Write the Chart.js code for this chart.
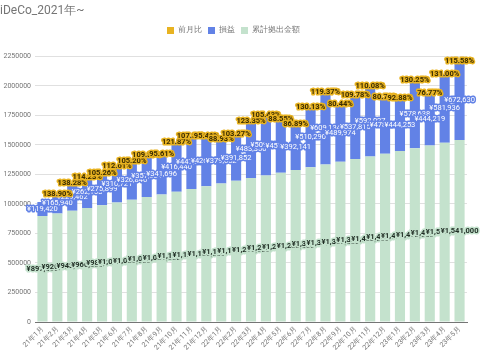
<!DOCTYPE html>
<html>
<head>
<meta charset="utf-8">
<script src="https://cdn.jsdelivr.net/npm/chart.js@4"></script>
<style>
html,body{margin:0;padding:0;background:#fff;}
#wrap{width:480px;height:351px;}
</style>
</head>
<body>
<div id="wrap"><canvas id="chartIdeco" width="480" height="351"></canvas></div>
<script>

let months=["21年1月","21年2月","21年3月","21年4月","21年5月","21年6月","21年7月","21年8月","21年9月","21年10月","21年11月","21年12月",
"22年1月","22年2月","22年3月","22年4月","22年5月","22年6月","22年7月","22年8月","22年9月","22年10月","22年11月","22年12月",
"23年1月","23年2月","23年3月","23年4月","23年5月"];

let contributed=[897000,920000,943000,966000,989000,1012000,1035000,1058000,1081000,1104000,1127000,1150000,
1173000,1196000,1219000,1242000,1265000,1288000,1311000,1334000,1357000,1380000,1403000,1426000,
1449000,1472000,1495000,1518000,1541000];

let profit=[119420,165940,229462,262103,275899,310721,326846,357534,341696,416440,447215,426911,
379652,391852,483350,509595,451246,392141,510290,609134,489974,537815,592027,478299,
444253,578638,444219,581936,672630];

let ratio=[null,138.90,138.28,114.23,105.26,112.61,105.20,109.39,95.61,121.87,107.39,95.46,
88.93,103.27,123.35,105.43,88.55,86.89,130.13,119.37,80.44,109.78,110.08,80.79,
92.88,130.25,76.77,131.00,115.58];

let yTicks=[0,250000,500000,750000,1000000,1250000,1500000,1750000,2000000,2250000];

/* 前月比は積み上げの一番上に極小の値で置く */
let ratioBar=ratio.map(v=>v==null?null:v/100);

function yen(v){
return "¥"+v.toLocaleString('en-US');
}

let labelStyles=[
{fill:"#1f2d24",halo:"#c4e2cd",bold:true,fmt:i=>yen(contributed[i])},
{fill:"#ffffff",halo:"#6282e6",bold:false,fmt:i=>yen(profit[i])},
{fill:"#3a2c00",halo:"#e8b321",bold:true,fmt:i=>ratio[i]==null?"":ratio[i].toFixed(2)+"%"}
];

const segLabels={
id:"segLabels",
afterDatasetsDraw(chart){
let ctx=chart.ctx;
ctx.save();
ctx.textAlign="center";
ctx.textBaseline="middle";
ctx.lineJoin="round";
labelStyles.forEach((st,di)=>{
let meta=chart.getDatasetMeta(di);
ctx.font=(st.bold?"bold ":"")+"7.5px Roboto";
meta.data.forEach((el,i)=>{
let txt=st.fmt(i);
if(!txt) return;
let y=(el.y+el.base)/2;
ctx.lineWidth=3;
ctx.strokeStyle=st.halo;
ctx.strokeText(txt,el.x,y);
ctx.fillStyle=st.fill;
ctx.fillText(txt,el.x,y);
});
});
ctx.restore();
}
};

/* 凡例の下に余白を足す */
const legendGap={
id:"legendGap",
beforeInit(chart){
let fit=chart.legend.fit;
chart.legend.fit=function(){
fit.call(this);
this.height+=12;
};
}
};

new Chart(document.getElementById("chartIdeco"),{

type:"bar",

data:{
labels:months,
datasets:[
{label:"累計拠出金額",data:contributed,backgroundColor:"#c4e2cd"},
{label:"損益",data:profit,backgroundColor:"#6282e6"},
{label:"前月比",data:ratioBar,backgroundColor:"#e8b321"}
]
},

options:{
responsive:false,
animation:false,
layout:{padding:{right:13,left:0,top:0,bottom:0}},
datasets:{bar:{categoryPercentage:1,barPercentage:0.68}},

plugins:{
title:{
display:true,
text:"iDeCo_2021年~",
align:"start",
color:"#757575",
font:{family:"Roboto",size:12,weight:"normal"},
padding:{top:4,bottom:2}
},
legend:{
position:"top",
labels:{
sort:(a,b)=>b.datasetIndex-a.datasetIndex,
boxWidth:7,
boxHeight:7,
color:"#757575",
font:{family:"Roboto",size:8},
padding:6
}
},
tooltip:{enabled:false}
},

scales:{
x:{
stacked:true,
grid:{display:false,drawTicks:false},
border:{color:"#757575"},
ticks:{
color:"#757575",
font:{family:"Roboto",size:7},
minRotation:45,
maxRotation:45,
autoSkip:false,
padding:3
},
afterFit(axis){axis.height=29;}
},
y:{
stacked:true,
min:0,
max:2250000,
afterBuildTicks(axis){axis.ticks=yTicks.map(v=>({value:v}));},
grid:{color:"#e0e0e0",drawTicks:false},
border:{display:false},
ticks:{
color:"#757575",
font:{family:"Roboto",size:7},
padding:4,
callback:v=>String(v)
},
afterFit(axis){axis.width=35;}
}
}

},

plugins:[segLabels,legendGap]

});

</script>
</body>
</html>
